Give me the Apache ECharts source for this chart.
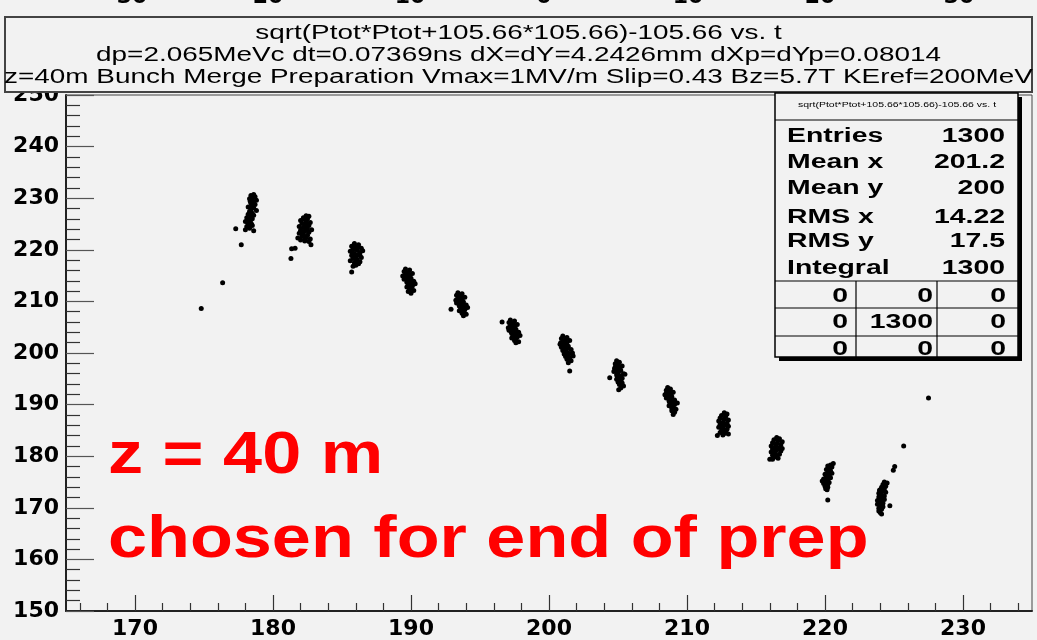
<!DOCTYPE html>
<html><head><meta charset="utf-8">
<script src="https://cdn.jsdelivr.net/npm/echarts@6/dist/echarts.min.js"></script>
<style>html,body{margin:0;padding:0;background:#f2f2f2;}#c{width:1037px;height:640px;}</style>
</head><body><div id="c"></div>
<script>
// ---------------- data ----------------
const titleLines = [
  'sqrt(Ptot*Ptot+105.66*105.66)-105.66 vs. t',
  'dp=2.065MeVc dt=0.07369ns dX=dY=4.2426mm dXp=dYp=0.08014',
  'z=40m Bunch Merge Preparation Vmax=1MV/m Slip=0.43 Bz=5.7T KEref=200MeV'
];
const topStripLabels = ['30','20','10','0','10','20','30'];
const xTickValues = [170,180,190,200,210,220,230];
const xMinorTickValues = [166,168,172,174,176,178,182,184,186,188,192,194,196,198,202,204,206,208,212,214,216,218,222,224,226,228,232,234];
const xRange = [165,235];
const yRange = [150,250];
const yTickStep = 10;

const statsTitle = 'sqrt(Ptot*Ptot+105.66*105.66)-105.66 vs. t';
const statLabels = ['Entries','Mean x','Mean y','RMS x','RMS y','Integral'];
const statValues = ['1300','201.2','200','14.22','17.5','1300'];
const cellValues = [['0','0','0'],['0','1300','0'],['0','0','0']];

const annotLine1 = 'z = 40 m';
const annotLine2 = 'chosen for end of prep';

const bunch0 = [[178.6,230.7],[178.4,230.5],[178.7,230.3],[178.5,230.0],[178.3,229.9],[178.8,229.6],[178.6,229.3],[178.4,229.0],[178.7,228.8],[178.5,228.5],[178.2,228.3],[178.6,228.1],[178.4,227.8],[178.8,227.6],[178.3,227.4],[178.5,227.1],[178.2,226.9],[178.6,226.7],[178.4,226.4],[178.1,226.2],[178.5,226.0],[178.3,225.7],[178.0,225.5],[178.4,225.2],[178.2,225.0],[178.5,224.7],[178.1,224.5],[178.3,224.2],[178.0,223.9],[178.6,223.7],[178.35,229.4],[178.55,228.7],[178.35,227.0],[178.25,225.9],[178.45,224.9]];
const bunch1 = [[182.2,226.2],[182.5,226.0],[182.0,225.7],[182.4,225.5],[182.7,225.3],[182.1,225.1],[182.3,224.9],[182.6,224.7],[181.9,224.5],[182.2,224.3],[182.5,224.1],[182.8,223.9],[182.0,223.8],[182.3,223.6],[182.6,223.4],[181.9,223.2],[182.2,223.0],[182.5,222.8],[182.1,222.6],[182.4,222.4],[181.8,222.3],[182.7,222.1],[182.0,221.9],[182.3,221.7],[182.6,221.6],[182.2,225.9],[182.4,224.4],[182.1,223.3],[182.35,222.2],[182.55,224.9]];
const bunch2 = [[185.9,221.2],[186.2,221.0],[185.7,220.7],[186.0,220.5],[186.4,220.3],[185.8,220.1],[186.1,219.9],[185.6,219.7],[186.3,219.5],[185.9,219.3],[186.2,219.1],[185.7,218.9],[186.0,218.7],[186.4,218.5],[185.8,218.3],[186.1,218.1],[185.6,217.9],[186.3,217.7],[185.9,217.5],[186.2,217.3],[186.0,217.0],[185.8,216.8],[186.15,220.6],[185.95,219.0],[186.05,217.9],[186.3,218.9],[185.75,219.4],[186.5,219.8]];
const bunch3 = [[189.6,216.3],[189.9,216.1],[189.5,215.8],[189.8,215.6],[190.1,215.4],[189.6,215.2],[189.9,215.0],[189.7,214.7],[190.0,214.5],[189.5,214.3],[189.8,214.1],[190.2,213.9],[189.7,213.7],[190.0,213.5],[189.8,213.2],[190.1,213.0],[189.7,212.8],[190.0,212.6],[189.9,212.3],[190.2,212.1],[189.8,211.9],[190.0,211.6],[189.75,215.3],[189.95,213.9],[189.85,212.9],[189.4,214.9],[190.3,213.4],[189.65,214.4]];
const bunch4 = [[193.4,211.7],[193.7,211.5],[193.3,211.2],[193.6,211.0],[193.9,210.8],[193.4,210.6],[193.7,210.4],[193.5,210.1],[193.8,209.9],[193.3,209.7],[193.6,209.5],[194.0,209.3],[193.5,209.1],[193.8,208.9],[193.6,208.6],[193.9,208.4],[193.5,208.2],[193.8,208.0],[193.7,207.7],[194.0,207.5],[193.8,207.2],[193.55,210.8],[193.75,209.3],[193.65,208.3],[194.1,208.8],[193.25,210.2],[193.45,209.6]];
const bunch5 = [[197.2,206.4],[197.5,206.2],[197.1,205.9],[197.4,205.7],[197.7,205.5],[197.2,205.3],[197.5,205.1],[197.3,204.8],[197.6,204.6],[197.1,204.4],[197.4,204.2],[197.8,204.0],[197.3,203.8],[197.6,203.6],[197.4,203.3],[197.7,203.1],[197.3,202.9],[197.6,202.7],[197.5,202.4],[197.8,202.2],[197.6,202.0],[197.35,205.0],[197.55,203.9],[197.45,202.9],[197.9,203.4],[197.05,204.9],[197.25,204.1]];
const bunch6 = [[201.0,203.3],[201.3,203.0],[200.9,202.8],[201.2,202.6],[201.5,202.4],[201.0,202.2],[201.3,202.0],[200.8,201.7],[201.1,201.5],[201.4,201.3],[200.9,201.1],[201.2,200.9],[201.6,200.7],[201.0,200.5],[201.3,200.2],[201.7,200.0],[201.1,199.8],[201.4,199.6],[201.2,199.3],[201.5,199.1],[201.3,198.8],[201.6,198.5],[201.4,198.1],[201.25,201.8],[201.15,200.6],[201.45,199.9],[200.85,202.0],[201.75,199.4],[201.35,201.0]];
const bunch7 = [[204.9,198.5],[205.1,198.2],[204.8,197.9],[205.0,197.7],[205.3,197.5],[204.8,197.3],[205.1,197.1],[204.9,196.8],[205.2,196.6],[204.7,196.4],[205.0,196.2],[205.4,196.0],[204.9,195.8],[205.2,195.6],[205.0,195.3],[205.3,195.1],[204.9,194.9],[205.2,194.7],[205.0,194.4],[205.3,194.2],[205.1,193.9],[205.4,193.6],[205.2,193.2],[205.05,192.9],[205.15,196.9],[204.95,195.5],[205.25,194.0],[205.5,195.9],[204.75,197.0]];
const bunch8 = [[208.6,193.3],[208.8,193.0],[208.5,192.8],[208.7,192.6],[209.0,192.4],[208.5,192.2],[208.8,192.0],[208.6,191.7],[208.9,191.5],[208.5,191.3],[208.8,191.1],[209.1,190.9],[208.7,190.7],[209.0,190.5],[208.8,190.2],[209.1,190.0],[208.7,189.8],[209.0,189.6],[208.9,189.3],[209.2,189.1],[208.9,188.8],[209.1,188.5],[209.0,188.1],[208.85,191.9],[208.75,190.4],[209.0,189.0],[209.3,190.3],[208.4,191.9]];
const bunch9 = [[212.7,188.4],[212.9,188.2],[212.5,187.9],[212.8,187.7],[212.4,187.4],[212.7,187.2],[213.0,187.0],[212.3,186.8],[212.6,186.6],[212.9,186.4],[212.4,186.2],[212.7,186.0],[213.0,185.8],[212.3,185.6],[212.6,185.4],[212.9,185.2],[212.5,185.0],[212.8,184.8],[212.4,184.6],[212.7,184.4],[213.0,184.3],[212.6,184.1],[212.85,186.3],[212.55,185.7],[212.75,184.9],[212.2,184.0]];
const bunch10 = [[216.5,183.6],[216.7,183.4],[216.3,183.2],[216.6,183.0],[216.9,182.8],[216.2,182.6],[216.5,182.4],[216.8,182.2],[216.1,182.0],[216.4,181.8],[216.7,181.6],[216.2,181.4],[216.5,181.2],[216.8,181.0],[216.1,180.8],[216.4,180.6],[216.7,180.4],[216.2,180.2],[216.5,180.0],[216.3,179.8],[216.6,179.6],[216.2,179.4],[216.45,182.1],[216.35,180.9],[216.9,181.5],[216.0,179.4]];
const bunch11 = [[220.6,178.6],[220.4,178.3],[220.2,178.1],[220.5,177.9],[220.3,177.6],[220.1,177.4],[220.4,177.2],[220.2,176.9],[220.5,176.7],[220.0,176.5],[220.3,176.3],[220.1,176.0],[220.4,175.8],[219.9,175.6],[220.2,175.4],[220.0,175.1],[220.3,174.9],[219.9,174.7],[220.2,174.5],[220.0,174.2],[220.2,174.0],[220.05,173.7],[220.15,173.5],[220.25,176.6],[220.1,175.2],[220.35,177.7],[219.8,175.2]];
const bunch12 = [[224.3,175.0],[224.5,174.8],[224.2,174.5],[224.4,174.2],[224.1,174.0],[224.3,173.7],[224.0,173.5],[224.2,173.2],[224.4,173.0],[223.9,172.8],[224.1,172.5],[224.3,172.3],[223.9,172.1],[224.1,171.8],[224.3,171.6],[223.8,171.4],[224.0,171.1],[224.2,170.9],[223.8,170.7],[224.0,170.4],[224.2,170.2],[223.9,169.9],[224.1,169.7],[223.9,169.4],[224.0,169.1],[224.1,168.8],[224.05,172.0],[224.15,170.6],[223.95,173.4]];
const strays = [[174.8,208.6],[176.35,213.6],[177.3,224.1],[177.7,221.0],[181.35,220.2],[181.6,220.3],[181.3,218.3],[182.75,221.0],[182.4,226.6],[182.6,226.5],[185.7,215.7],[192.9,208.5],[196.6,206.0],[201.5,196.5],[204.4,195.2],[220.2,171.5],[224.7,170.4],[224.95,177.3],[225.05,178.0],[225.7,182.0],[227.5,191.3]];

// ---------------- chart ----------------
const chart = echarts.init(document.getElementById('c'), null, {renderer: 'canvas'});
const allPoints = [].concat(bunch0,bunch1,bunch2,bunch3,bunch4,bunch5,bunch6,bunch7,bunch8,bunch9,bunch10,bunch11,bunch12,strays);

const TF = 'Liberation Sans, Arial, Helvetica, sans-serif';
const LF = 'DejaVu Sans, sans-serif';

const g = [];
// sliver of previous figure labels at the very top
const stripX = [132,268,410,544,688,820,959];
topStripLabels.forEach((t,i)=>g.push({type:'text', x:stripX[i], y:-3, z:100,
  style:{text:t, font:'bold 22px '+LF, fill:'#000', textAlign:'center', textVerticalAlign:'middle'}}));
// title box
g.push({type:'rect', z:100, shape:{x:5,y:17,width:1027,height:75}, style:{fill:'#f2f2f2', stroke:'#444', lineWidth:2}});
const titleY = [33, 55, 77];
titleLines.forEach((t,i)=>g.push({type:'text', z:101, x:518.5, y:titleY[i], scaleX:1.395,
  style:{text:t, font:'20px '+TF, fill:'#000', textAlign:'center', textVerticalAlign:'middle'}}));
// stats box
const bx=775, by=93, bw=243, bh=264;
g.push({type:'rect', z:100, shape:{x:bx+4,y:by+4,width:bw,height:bh}, style:{fill:'#000'}});
g.push({type:'rect', z:101, shape:{x:bx,y:by,width:bw,height:bh}, style:{fill:'#f2f2f2', stroke:'#000', lineWidth:1.5}});
g.push({type:'line', z:102, shape:{x1:bx,y1:120,x2:bx+bw,y2:120}, style:{stroke:'#000', lineWidth:1.2}});
g.push({type:'text', z:102, x:897, y:105, scaleX:1.5,
  style:{text:statsTitle, font:'7px '+TF, fill:'#000', textAlign:'center', textVerticalAlign:'middle'}});
const rowY = [136, 162, 188, 217, 241, 268];
statLabels.forEach((t,i)=>{
  g.push({type:'text', z:102, x:787, y:rowY[i], scaleX:1.42,
    style:{text:t, font:'bold 20px '+TF, fill:'#000', textAlign:'left', textVerticalAlign:'middle'}});
  g.push({type:'text', z:102, x:1005, y:rowY[i], scaleX:1.42,
    style:{text:statValues[i], font:'bold 20px '+TF, fill:'#000', textAlign:'right', textVerticalAlign:'middle'}});
});
const gridTop=281, gridRows=[281,308,336], colX=[856,937];
gridRows.forEach(yy=>g.push({type:'line', z:102, shape:{x1:bx,y1:yy,x2:bx+bw,y2:yy}, style:{stroke:'#000', lineWidth:1.2}}));
colX.forEach(xx=>g.push({type:'line', z:102, shape:{x1:xx,y1:gridTop,x2:xx,y2:by+bh}, style:{stroke:'#000', lineWidth:1.2}}));
const cellRight=[848,933,1006], cellY=[296,322,349];
cellValues.forEach((row,r)=>row.forEach((v,c)=>g.push({type:'text', z:102, x:cellRight[c], y:cellY[r], scaleX:1.42,
  style:{text:v, font:'bold 20px '+TF, fill:'#000', textAlign:'right', textVerticalAlign:'middle'}})));
// red annotations
g.push({type:'text', z:103, x:108, y:456, scaleX:1.17,
  style:{text:annotLine1, font:'bold 60px '+TF, fill:'#ff0000', textAlign:'left', textVerticalAlign:'middle'}});
g.push({type:'text', z:103, x:108, y:540, scaleX:1.17,
  style:{text:annotLine2, font:'bold 60px '+TF, fill:'#ff0000', textAlign:'left', textVerticalAlign:'middle'}});

chart.setOption({
  animation:false,
  backgroundColor:'#f2f2f2',
  grid:{left:66, right:5, top:95, bottom:28, show:true, borderColor:'#444', borderWidth:1, backgroundColor:'transparent'},
  xAxis:[{
    type:'value', min:xRange[0], max:xRange[1], position:'bottom',
    axisLine:{show:true, onZero:false, lineStyle:{color:'#222', width:2}},
    axisTick:{show:true, inside:true, length:16, customValues:xTickValues, lineStyle:{color:'#333', width:1.2}},
    axisLabel:{show:true, customValues:xTickValues, margin:7, color:'#000', fontFamily:LF, fontWeight:'bold', fontSize:22},
    splitLine:{show:false}
  },{
    type:'value', min:xRange[0], max:xRange[1], position:'bottom',
    axisLine:{show:false},
    axisTick:{show:true, inside:true, length:8, customValues:xMinorTickValues, lineStyle:{color:'#333', width:1.2}},
    axisLabel:{show:false},
    splitLine:{show:false}
  }],
  yAxis:{
    type:'value', min:yRange[0], max:yRange[1], interval:yTickStep,
    axisLine:{show:true, onZero:false, lineStyle:{color:'#222', width:2}},
    axisTick:{show:true, inside:true, length:28, lineStyle:{color:'#555', width:1.2}},
    minorTick:{show:true, splitNumber:5, length:14, lineStyle:{color:'#333', width:1.2}},
    axisLabel:{margin:7, color:'#000', fontFamily:LF, fontWeight:'bold', fontSize:22},
    splitLine:{show:false}, minorSplitLine:{show:false}
  },
  series:[{
    type:'scatter', xAxisIndex:0, data:allPoints, symbol:'circle', symbolSize:5,
    itemStyle:{color:'#000', opacity:1}, silent:true
  }],
  graphic:g
});
</script></body></html>
